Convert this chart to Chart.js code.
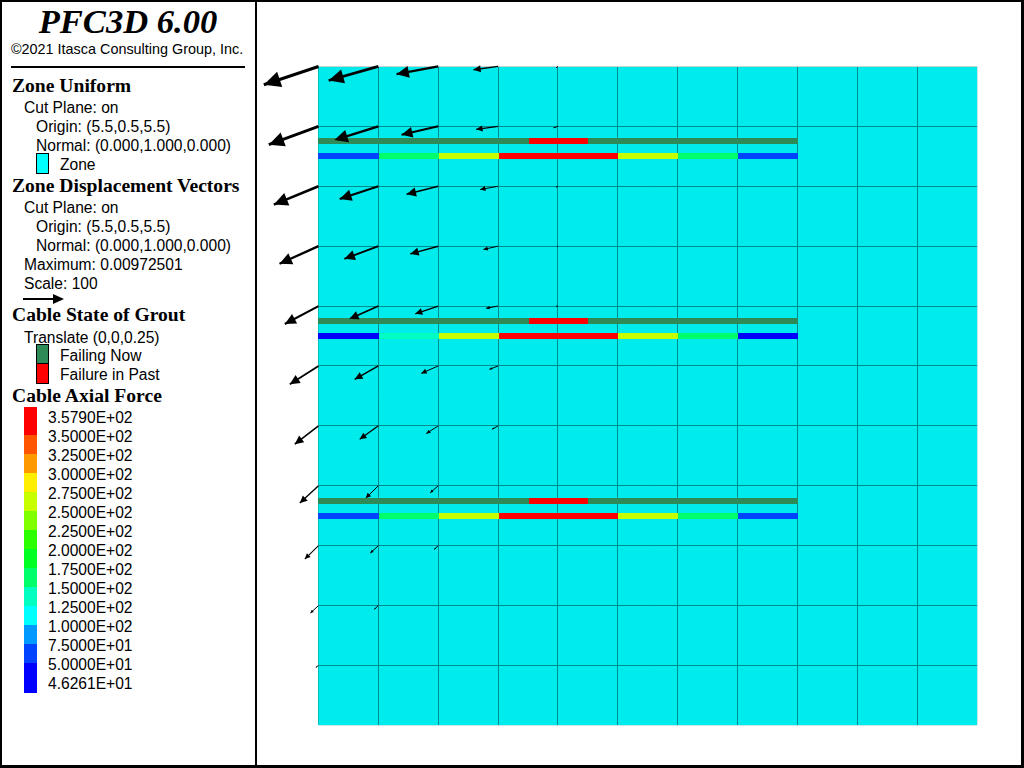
<!DOCTYPE html>
<html>
<head>
<meta charset="utf-8">
<title>PFC3D 6.00</title>
<script src="https://cdn.jsdelivr.net/npm/chart.js@4"></script>
<style>
  html, body { margin: 0; padding: 0; background: #fff; }
  #page { position: relative; width: 1024px; height: 768px; overflow: hidden; font: 15.6px "Liberation Sans", Arial, sans-serif; color: #000; }
  #plot { position: absolute; left: 0; top: 0; width: 1024px; height: 768px; }
  #frame { position: absolute; left: 0; top: 0; width: 1019px; height: 763px; border: solid #000; border-width: 2px 3px 3px 2px; pointer-events: none; }
  #divider { position: absolute; left: 255px; top: 0; width: 2px; height: 768px; background: #000; }
  #panel { position: absolute; left: 0; top: 0; width: 255px; height: 768px; background: #fff; }
  #panel .t { position: absolute; white-space: nowrap; line-height: 20px; height: 20px; }
  #panel .h { font: bold 19.6px/20px "Liberation Serif", serif; }
  #title { position: absolute; left: 0; width: 256px; top: 0; text-align: center; font: italic bold 34.6px/42px "Liberation Serif", serif; }
  #copy { font-size: 14.4px; }
  #rule { position: absolute; left: 11px; top: 66px; width: 234px; height: 2px; background: #000; }
  .swatch { position: absolute; box-sizing: border-box; }
</style>
</head>
<body>
<div id="page">
  <canvas id="plot" width="1024" height="768"></canvas>
  <div id="panel">
    <div id="title">PFC3D 6.00</div>
    <div class="t" id="copy" style="left:11px;top:39px">©2021 Itasca Consulting Group, Inc.</div>
    <div id="rule"></div>
    <svg style="position:absolute;left:20px;top:291px" width="50" height="16">
      <line x1="3" y1="8" x2="34" y2="8" stroke="#000" stroke-width="2"/>
      <polygon points="44,8 33,3 33,13" fill="#000"/>
    </svg>
  </div>
  <div id="divider"></div>
  <div id="frame"></div>
</div>
<script>
// model axes
const xTicks = [0, 1, 2, 3, 4, 5, 6, 7, 8, 9, 10, 11];
const yTicks = [0, 1, 2, 3, 4, 5, 6, 7, 8, 9, 10, 11];

// displacement vectors, one list per grid row from the top, one entry per column
const rowHeights = [11, 10, 9, 8, 7, 6, 5, 4, 3, 2, 1];
const vectorDx = [
  [-0.913, -0.83, -0.696, -0.412, -0.033],
  [-0.83, -0.735, -0.613, -0.367, -0.075],
  [-0.746, -0.646, -0.529, -0.3, -0.033],
  [-0.651, -0.568, -0.467, -0.245, -0.017],
  [-0.563, -0.484, -0.384, -0.2, -0.033],
  [-0.479, -0.396, -0.284, -0.145],
  [-0.396, -0.312, -0.2, -0.1],
  [-0.312, -0.212, -0.134],
  [-0.229, -0.134, -0.067],
  [-0.134, -0.067],
  [-0.045],
];
const vectorDy = [
  [-0.306, -0.234, -0.129, -0.055, -0.025],
  [-0.306, -0.229, -0.139, -0.05, -0.025],
  [-0.306, -0.212, -0.134, -0.055, -0.017],
  [-0.295, -0.212, -0.129, -0.055, -0.008],
  [-0.3, -0.217, -0.129, -0.038, -0.005],
  [-0.307, -0.224, -0.124, -0.057],
  [-0.307, -0.224, -0.129, -0.057],
  [-0.29, -0.207, -0.117],
  [-0.224, -0.124, -0.062],
  [-0.124, -0.062],
  [-0.033],
];

// cables
const cableNodes = [-0.008, 1.011, 2.013, 3.015, 4.017, 5.002, 6.004, 7.007, 8.009];
const axialHeights = [9.505, 6.5, 3.495];
const axialForces = [
  [60, 160, 260, 355, 355, 260, 160, 60],
  [48, 130, 260, 355, 355, 260, 160, 48],
  [60, 160, 260, 355, 355, 260, 160, 60],
];
const groutHeights = [9.755, 6.75, 3.745];
const groutBreaks = [-0.008, 3.516, 4.501, 8.009];
const groutStates = ["now", "past", "now"];

// legend
const axialLabels = ["3.5790E+02", "3.5000E+02", "3.2500E+02", "3.0000E+02", "2.7500E+02", "2.5000E+02", "2.2500E+02", "2.0000E+02", "1.7500E+02", "1.5000E+02", "1.2500E+02", "1.0000E+02", "7.5000E+01", "5.0000E+01", "4.6261E+01"];
const axialLimits = [350, 325, 300, 275, 250, 225, 200, 175, 150, 125, 100, 75, 50, 0];
const axialColors = ["#ff0000", "#ff5500", "#ff9900", "#ffee00", "#c8ff00", "#80ff00", "#2bff00", "#00ff22", "#00ff6a", "#00ffc0", "#00ffff", "#0099ff", "#0044ff", "#0000ff"];
const panelLines = [
  ["Zone Uniform", 12, 86, "h"],
  ["Cut Plane: on", 24, 108],
  ["Origin: (5.5,0.5,5.5)", 36, 127],
  ["Normal: (0.000,1.000,0.000)", 36, 146],
  ["Zone", 60, 165],
  ["Zone Displacement Vectors", 12, 186, "h"],
  ["Cut Plane: on", 24, 208],
  ["Origin: (5.5,0.5,5.5)", 36, 227],
  ["Normal: (0.000,1.000,0.000)", 36, 246],
  ["Maximum: 0.00972501", 24, 265],
  ["Scale: 100", 24, 284],
  ["Cable State of Grout", 12, 315, "h"],
  ["Translate (0,0,0.25)", 24, 338],
  ["Failing Now", 60, 356],
  ["Failure in Past", 60, 375],
  ["Cable Axial Force", 12, 396, "h"],
];

const zoneColor = "#00ebeb";
const gridColor = "#008c8c";
const groutColors = { now: "#2e8b57", past: "#ff0000" };

function forceColor(value) {
  return axialColors[axialLimits.findIndex((limit) => value >= limit)];
}

function renderPanel() {
  const panel = document.querySelector("#panel");
  const addText = (text, x, centre, cls) => {
    const el = document.createElement("div");
    el.className = cls ? "t " + cls : "t";
    el.textContent = text;
    el.style.left = x + "px";
    el.style.top = centre - 10 + "px";
    panel.appendChild(el);
  };
  const addBox = (x, y, w, h, color, border) => {
    const el = document.createElement("div");
    el.className = "swatch";
    el.style.cssText = `left:${x}px;top:${y}px;width:${w}px;height:${h}px;background:${color};` + (border ? "border:1px solid #000;" : "");
    panel.appendChild(el);
  };

  panelLines.forEach(([text, x, y, cls]) => addText(text, x, y, cls));
  axialLabels.forEach((label, i) => addText(label, 48, 418 + 19 * i, ""));

  addBox(36, 153, 13, 21, "#00ffff", true);
  addBox(36, 344, 13, 20, groutColors.now, true);
  addBox(36, 363, 13, 21, groutColors.past, true);

  let y = 407;
  axialColors.forEach((color, i) => {
    const h = i === 0 ? 28 : i === axialColors.length - 1 ? 30 : 19;
    addBox(24, y, 13, h, color);
    y += h;
  });
}

// zone fill behind the grid
const zoneFill = {
  id: "zoneFill",
  beforeDraw(chart) {
    const { ctx, chartArea } = chart;
    const left = Math.floor(chartArea.left);
    const top = Math.floor(chartArea.top);
    ctx.save();
    ctx.fillStyle = zoneColor;
    ctx.fillRect(left, top, Math.floor(chartArea.right) - left, Math.floor(chartArea.bottom) - top);
    ctx.restore();
  },
};

// filled heads on the end of every vector dataset
const arrowHeads = {
  id: "arrowHeads",
  afterDatasetsDraw(chart) {
    const { ctx, scales } = chart;
    ctx.save();
    ctx.fillStyle = "#000";
    chart.data.datasets.forEach((ds) => {
      if (!ds.isVector) return;
      const x0 = scales.x.getPixelForValue(ds.data[0].x);
      const y0 = scales.y.getPixelForValue(ds.data[0].y);
      const x1 = scales.x.getPixelForValue(ds.data[1].x);
      const y1 = scales.y.getPixelForValue(ds.data[1].y);
      const len = Math.hypot(x1 - x0, y1 - y0);
      const ux = (x1 - x0) / len;
      const uy = (y1 - y0) / len;
      const headLen = len * 0.29;
      const headW = len * 0.14;
      ctx.beginPath();
      ctx.moveTo(x1, y1);
      ctx.lineTo(x1 - ux * headLen - uy * headW, y1 - uy * headLen + ux * headW);
      ctx.lineTo(x1 - ux * headLen + uy * headW, y1 - uy * headLen - ux * headW);
      ctx.closePath();
      ctx.fill();
    });
    ctx.restore();
  },
};

function cableDatasets() {
  const sets = [];
  groutHeights.forEach((height) => {
    groutStates.forEach((state, i) => {
      sets.push({
        data: [
          { x: groutBreaks[i], y: height },
          { x: groutBreaks[i + 1], y: height },
        ],
        borderColor: groutColors[state],
        borderWidth: 6,
        borderCapStyle: "butt",
        pointRadius: 0,
        showLine: true,
        clip: false,
      });
    });
  });
  axialHeights.forEach((height, c) => {
    axialForces[c].forEach((force, i) => {
      sets.push({
        data: [
          { x: cableNodes[i], y: height },
          { x: cableNodes[i + 1], y: height },
        ],
        borderColor: forceColor(force),
        borderWidth: 6,
        borderCapStyle: "butt",
        pointRadius: 0,
        showLine: true,
        clip: false,
      });
    });
  });
  return sets;
}

function vectorDatasets() {
  const sets = [];
  rowHeights.forEach((height, r) => {
    vectorDx[r].forEach((dx, c) => {
      const dy = vectorDy[r][c];
      const len = Math.hypot(dx, dy);
      sets.push({
        isVector: true,
        data: [
          { x: xTicks[c], y: height },
          { x: xTicks[c] + dx, y: height + dy },
        ],
        borderColor: "#000",
        borderWidth: Math.max(1, len * 3.2),
        borderCapStyle: "butt",
        pointRadius: 0,
        showLine: true,
        clip: false,
      });
    });
  });
  return sets;
}

function setupChart() {
  const axis = (ticks, firstEdge, lastEdge) => ({
    type: "linear",
    min: ticks[0],
    max: ticks[ticks.length - 1],
    border: { display: false },
    grid: {
      lineWidth: 1,
      drawTicks: false,
      color: (ctx) => {
        if (ctx.tick.value === ticks[0]) return firstEdge;
        if (ctx.tick.value === ticks[ticks.length - 1]) return lastEdge;
        return gridColor;
      },
    },
    ticks: { display: false, stepSize: 1, padding: 0 },
  });
  return new Chart(document.getElementById("plot"), {
    type: "scatter",
    data: { datasets: [...cableDatasets(), ...vectorDatasets()] },
    options: {
      responsive: false,
      animation: false,
      devicePixelRatio: 1,
      layout: { padding: { left: 318.5, top: 66.45, right: 46.93, bottom: 42.65 } },
      plugins: { legend: { display: false }, tooltip: { enabled: false } },
      scales: {
        x: axis(xTicks, "#00bebe", "#c8e6e6"),
        y: axis(yTicks, "#c8e6e6", "#c8d2d2"),
      },
    },
    plugins: [zoneFill, arrowHeads],
  });
}

window.addEventListener("DOMContentLoaded", () => {
  renderPanel();
  setupChart();
});
</script>
</body>
</html>
